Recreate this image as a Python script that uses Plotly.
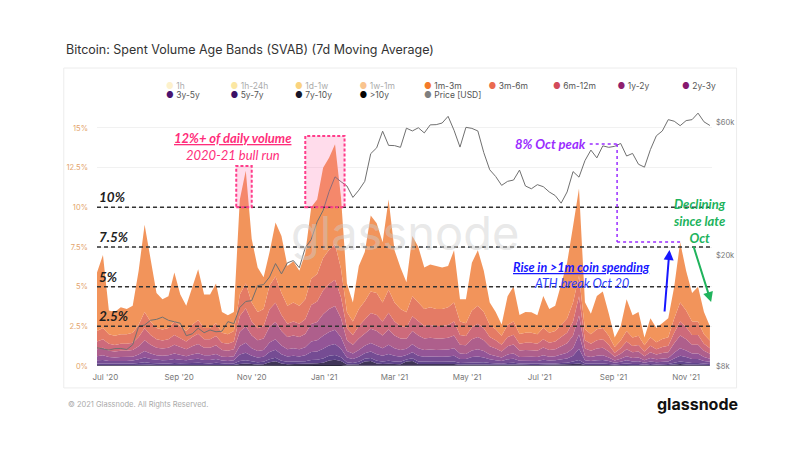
import pandas as pd
import plotly.graph_objects as go

# ---------------- data (5-day samples) ----------------
dates = pd.date_range("2020-06-24", periods=104, freq="5D")

band_1m_3m = [3.7, 4.6, 1.5, 1.5, 1.7, 1.6, 1.7, 3.4, 5.5, 4.0,
              2.2, 1.9, 2.0, 3.1, 2.0, 1.6, 2.4, 3.2, 2.1, 2.1,
              2.5, 1.3, 1.2, 1.2, 6.0, 7.1, 4.0, 2.8, 2.0, 2.1,
              3.4, 3.6, 2.5, 2.6, 2.2, 2.9, 4.5, 4.7, 5.7, 5.8,
              6.3, 4.5, 1.8, 1.2, 2.7, 3.1, 4.8, 4.4, 3.8, 5.7,
              3.3, 2.6, 1.9, 3.8, 3.5, 2.6, 2.7, 2.7, 2.6, 2.6,
              3.3, 1.4, 1.5, 3.0, 3.5, 2.6, 1.4, 1.1, 0.7, 1.8,
              2.2, 1.2, 1.3, 1.3, 1.2, 2.0, 1.5, 1.6, 2.6, 3.5,
              4.8, 5.5, 1.7, 1.3, 2.1, 2.3, 1.4, 0.6, 0.9, 2.0,
              1.4, 1.5, 0.5, 1.2, 0.9, 1.0, 1.2, 2.0, 3.8, 2.5,
              1.8, 2.2, 1.4, 0.9]
band_3m_6m = [0.66, 0.72, 0.60, 0.57, 0.60, 0.60, 0.63, 0.78, 1.02, 0.84,
              0.72, 0.69, 0.72, 0.84, 0.75, 0.66, 0.78, 0.87, 0.72, 0.72,
              0.81, 0.63, 0.60, 0.66, 1.35, 1.56, 1.20, 1.02, 1.08, 1.50,
              1.65, 1.38, 1.14, 1.20, 1.14, 1.26, 1.65, 1.74, 2.04, 2.16,
              2.25, 1.80, 1.02, 0.84, 1.08, 1.17, 1.35, 1.38, 1.20, 1.44,
              1.20, 1.08, 0.96, 1.26, 1.20, 1.08, 1.11, 1.08, 1.08, 1.11,
              1.20, 0.84, 0.81, 1.05, 1.14, 1.02, 0.78, 0.69, 0.57, 0.78,
              0.84, 0.60, 0.63, 0.63, 0.60, 0.72, 0.63, 0.66, 0.78, 0.90,
              1.20, 1.30, 0.69, 0.60, 0.69, 0.72, 0.57, 0.36, 0.48, 0.66,
              0.54, 0.57, 0.39, 0.54, 0.45, 0.51, 0.54, 0.90, 1.20, 1.05,
              0.84, 0.84, 0.60, 0.48]
band_6m_12m = [0.48, 0.53, 0.44, 0.42, 0.44, 0.44, 0.46, 0.57, 0.75, 0.62,
               0.53, 0.51, 0.53, 0.62, 0.55, 0.48, 0.57, 0.64, 0.53, 0.53,
               0.59, 0.46, 0.44, 0.48, 0.99, 1.14, 0.88, 0.75, 0.79, 1.10,
               1.21, 1.01, 0.84, 0.88, 0.84, 0.92, 1.21, 1.28, 1.50, 1.58,
               1.65, 1.32, 0.75, 0.62, 0.79, 0.86, 0.99, 1.01, 0.88, 1.06,
               0.88, 0.79, 0.70, 0.92, 0.88, 0.79, 0.81, 0.79, 0.79, 0.81,
               0.88, 0.62, 0.59, 0.77, 0.84, 0.75, 0.57, 0.51, 0.42, 0.57,
               0.62, 0.44, 0.46, 0.46, 0.44, 0.53, 0.46, 0.48, 0.57, 0.66,
               0.88, 1.21, 0.51, 0.44, 0.51, 0.53, 0.42, 0.26, 0.35, 0.48,
               0.40, 0.42, 0.29, 0.40, 0.33, 0.37, 0.40, 0.66, 0.88, 0.77,
               0.62, 0.62, 0.44, 0.35]
band_1y_2y = [0.44, 0.48, 0.40, 0.38, 0.40, 0.40, 0.42, 0.52, 0.68, 0.56,
              0.48, 0.46, 0.48, 0.56, 0.50, 0.44, 0.52, 0.58, 0.48, 0.48,
              0.54, 0.42, 0.40, 0.44, 0.90, 1.04, 0.80, 0.68, 0.72, 1.00,
              1.10, 0.92, 0.76, 0.80, 0.76, 0.84, 1.10, 1.16, 1.36, 1.44,
              1.50, 1.20, 0.68, 0.56, 0.72, 0.78, 0.90, 0.92, 0.80, 0.96,
              0.80, 0.72, 0.64, 0.84, 0.80, 0.72, 0.74, 0.72, 0.72, 0.74,
              0.80, 0.56, 0.54, 0.70, 0.76, 0.68, 0.52, 0.46, 0.38, 0.52,
              0.56, 0.40, 0.42, 0.42, 0.40, 0.48, 0.42, 0.44, 0.52, 0.60,
              0.80, 1.20, 0.46, 0.40, 0.46, 0.48, 0.38, 0.24, 0.32, 0.44,
              0.36, 0.38, 0.26, 0.36, 0.30, 0.34, 0.36, 0.60, 0.80, 0.70,
              0.56, 0.56, 0.40, 0.32]
band_2y_3y = [0.26, 0.29, 0.24, 0.23, 0.24, 0.24, 0.25, 0.31, 0.41, 0.34,
              0.29, 0.28, 0.29, 0.34, 0.30, 0.26, 0.31, 0.35, 0.29, 0.29,
              0.32, 0.25, 0.24, 0.26, 0.54, 0.62, 0.48, 0.41, 0.43, 0.60,
              0.66, 0.55, 0.46, 0.48, 0.46, 0.50, 0.66, 0.70, 0.82, 0.86,
              0.90, 0.72, 0.41, 0.34, 0.43, 0.47, 0.54, 0.55, 0.48, 0.58,
              0.48, 0.43, 0.38, 0.50, 0.48, 0.43, 0.44, 0.43, 0.43, 0.44,
              0.48, 0.34, 0.32, 0.42, 0.46, 0.41, 0.31, 0.28, 0.23, 0.31,
              0.34, 0.24, 0.25, 0.25, 0.24, 0.29, 0.25, 0.26, 0.31, 0.36,
              0.48, 0.90, 0.28, 0.24, 0.28, 0.29, 0.23, 0.14, 0.19, 0.26,
              0.22, 0.23, 0.16, 0.22, 0.18, 0.20, 0.22, 0.36, 0.48, 0.42,
              0.34, 0.34, 0.24, 0.19]
band_3y_5y = [0.20, 0.22, 0.18, 0.17, 0.18, 0.18, 0.19, 0.23, 0.31, 0.25,
              0.22, 0.21, 0.22, 0.25, 0.23, 0.20, 0.23, 0.26, 0.22, 0.22,
              0.24, 0.19, 0.18, 0.20, 0.41, 0.47, 0.36, 0.31, 0.32, 0.45,
              0.50, 0.41, 0.34, 0.36, 0.34, 0.38, 0.50, 0.52, 0.61, 0.65,
              0.68, 0.54, 0.31, 0.25, 0.32, 0.35, 0.41, 0.41, 0.36, 0.43,
              0.36, 0.32, 0.29, 0.38, 0.36, 0.32, 0.33, 0.32, 0.32, 0.33,
              0.36, 0.25, 0.24, 0.32, 0.34, 0.31, 0.23, 0.21, 0.17, 0.23,
              0.25, 0.18, 0.19, 0.19, 0.18, 0.22, 0.19, 0.20, 0.23, 0.27,
              0.36, 0.70, 0.21, 0.18, 0.21, 0.22, 0.17, 0.11, 0.14, 0.20,
              0.16, 0.17, 0.12, 0.16, 0.14, 0.15, 0.16, 0.27, 0.36, 0.32,
              0.25, 0.25, 0.18, 0.14]
band_5y_7y = [0.09, 0.10, 0.08, 0.08, 0.08, 0.08, 0.08, 0.11, 0.14, 0.11,
              0.10, 0.09, 0.10, 0.11, 0.10, 0.09, 0.11, 0.12, 0.10, 0.10,
              0.11, 0.08, 0.08, 0.09, 0.18, 0.21, 0.16, 0.14, 0.15, 0.20,
              0.22, 0.18, 0.15, 0.16, 0.15, 0.17, 0.22, 0.23, 0.27, 0.29,
              0.30, 0.24, 0.14, 0.11, 0.15, 0.16, 0.18, 0.18, 0.16, 0.19,
              0.16, 0.15, 0.13, 0.17, 0.16, 0.15, 0.15, 0.15, 0.15, 0.15,
              0.16, 0.11, 0.11, 0.14, 0.15, 0.14, 0.11, 0.09, 0.08, 0.11,
              0.11, 0.08, 0.08, 0.08, 0.08, 0.10, 0.08, 0.09, 0.11, 0.12,
              0.16, 0.22, 0.09, 0.08, 0.09, 0.10, 0.08, 0.05, 0.06, 0.09,
              0.07, 0.08, 0.05, 0.07, 0.06, 0.07, 0.07, 0.12, 0.16, 0.14,
              0.11, 0.11, 0.08, 0.06]
band_7y_10y = [0.05, 0.04, 0.04, 0.03, 0.04, 0.04, 0.05, 0.05, 0.06, 0.05,
               0.04, 0.04, 0.04, 0.05, 0.05, 0.05, 0.05, 0.05, 0.04, 0.04,
               0.06, 0.05, 0.04, 0.05, 0.09, 0.11, 0.08, 0.06, 0.07, 0.18,
               0.25, 0.10, 0.07, 0.08, 0.07, 0.09, 0.11, 0.12, 0.14, 0.28,
               0.32, 0.25, 0.06, 0.05, 0.07, 0.25, 0.28, 0.10, 0.08, 0.09,
               0.08, 0.07, 0.25, 0.28, 0.08, 0.07, 0.07, 0.07, 0.07, 0.07,
               0.08, 0.05, 0.06, 0.07, 0.07, 0.06, 0.05, 0.05, 0.04, 0.05,
               0.06, 0.05, 0.05, 0.04, 0.04, 0.05, 0.05, 0.05, 0.05, 0.06,
               0.08, 0.11, 0.05, 0.04, 0.05, 0.04, 0.04, 0.02, 0.04, 0.05,
               0.03, 0.03, 0.02, 0.04, 0.03, 0.04, 0.04, 0.06, 0.08, 0.07,
               0.05, 0.05, 0.04, 0.04]
band_10y_plus = [0.02, 0.02, 0.02, 0.02, 0.02, 0.02, 0.02, 0.03, 0.03, 0.03,
                 0.02, 0.02, 0.02, 0.03, 0.02, 0.02, 0.03, 0.03, 0.02, 0.02,
                 0.03, 0.02, 0.02, 0.02, 0.04, 0.05, 0.04, 0.03, 0.04, 0.05,
                 0.05, 0.05, 0.04, 0.04, 0.04, 0.04, 0.05, 0.05, 0.06, 0.07,
                 0.08, 0.06, 0.03, 0.03, 0.04, 0.04, 0.04, 0.05, 0.04, 0.05,
                 0.04, 0.04, 0.03, 0.04, 0.04, 0.04, 0.05, 0.04, 0.04, 0.05,
                 0.04, 0.03, 0.03, 0.03, 0.04, 0.03, 0.03, 0.02, 0.02, 0.03,
                 0.03, 0.02, 0.02, 0.02, 0.02, 0.02, 0.02, 0.02, 0.03, 0.03,
                 0.04, 0.05, 0.02, 0.02, 0.02, 0.02, 0.02, 0.02, 0.02, 0.02,
                 0.02, 0.02, 0.01, 0.02, 0.01, 0.02, 0.02, 0.03, 0.04, 0.03,
                 0.03, 0.03, 0.02, 0.02]
price_usd = [9300, 9190, 9130, 9240, 9250, 9170, 9540, 11100, 11230, 11680,
             11770, 11990, 11680, 11540, 11400, 10280, 10440, 10940, 10540, 10780,
             10620, 10670, 11550, 11360, 12990, 13650, 13740, 15560, 15700, 16720,
             18680, 17150, 18800, 19150, 18050, 21300, 22800, 26400, 29000, 33900,
             38300, 36800, 35500, 32300, 34300, 36900, 46400, 48700, 55900, 49700,
             49600, 48900, 57300, 56000, 57500, 55100, 58900, 59000, 59800, 63200,
             56300, 49000, 57700, 57200, 56000, 46800, 40600, 38400, 35700, 36900,
             37300, 40500, 35500, 34700, 35900, 35300, 33800, 32800, 30800, 33800,
             40000, 38200, 43800, 47800, 44800, 49500, 48900, 49300, 50500, 45500,
             46500, 42500, 41500, 48000, 53800, 56000, 61500, 60700, 58500, 61000,
             61500, 64900, 60400, 58600]

legend_names = ["1h", "1h-24h", "1d-1w", "1w-1m", "1m-3m", "3m-6m", "6m-12m",
                "1y-2y", "2y-3y", "3y-5y", "5y-7y", "7y-10y", ">10y", "Price [USD]"]
legend_dot_colors = ["#fbe39a", "#f8d04a", "#f6a800", "#f58a1f", "#f47a2a", "#ea6a4f",
                     "#d24a5a", "#8f1f6e", "#86196f", "#4a1470", "#3b1166", "#161628",
                     "#050505", "#7f7f7f"]
hidden_bands = ["1h", "1h-24h", "1d-1w", "1w-1m"]
row_end_widths = {"2y-3y": 34, "Price [USD]": 64}

pct_ticks = [0, 2.5, 5, 7.5, 10, 12.5, 15]
pct_tick_text = ["0%", "2.5%", "5%", "7.5%", "10%", "12.5%", "15%"]
price_ticks = [8000, 20000, 60000]
price_tick_text = ["$8k", "$20k", "$60k"]
month_ticks = ["2020-07-01", "2020-09-01", "2020-11-01", "2021-01-01", "2021-03-01",
               "2021-05-01", "2021-07-01", "2021-09-01", "2021-11-01"]
level_lines = [10, 7.5, 5, 2.5]
level_labels = ["10%", "7.5%", "5%", "2.5%"]

# ---------------- figure ----------------
fig = go.Figure()

stack = [
    (">10y", band_10y_plus, "#2c2a3c"),
    ("7y-10y", band_7y_10y, "#403558"),
    ("5y-7y", band_5y_7y, "#5f438a"),
    ("3y-5y", band_3y_5y, "#754c93"),
    ("2y-3y", band_2y_3y, "#935597"),
    ("1y-2y", band_1y_2y, "#ae5f8c"),
    ("6m-12m", band_6m_12m, "#cd6a7b"),
    ("3m-6m", band_3m_6m, "#e47b65"),
    ("1m-3m", band_1m_3m, "#f2945b"),
]
for name, vals, col in stack:
    fig.add_trace(go.Scatter(
        x=dates, y=vals, name=name, stackgroup="svab", mode="lines",
        line=dict(width=0, color=col), fillcolor=col,
        showlegend=False, hoverinfo="skip"))

fig.add_trace(go.Scatter(
    x=dates, y=price_usd, name="Price [USD]", yaxis="y2", mode="lines",
    line=dict(color="#707070", width=1), showlegend=False, hoverinfo="skip"))

for i, (name, col) in enumerate(zip(legend_names, legend_dot_colors)):
    extra = {}
    if name in row_end_widths:
        extra["legendwidth"] = row_end_widths[name]
    fig.add_trace(go.Scatter(
        x=[None], y=[None], mode="markers",
        marker=dict(color="rgba(0,0,0,0)", size=1),
        name=f'<span style="color:{col}">\u25CF</span> {name}',
        legend="legend" if i < 9 else "legend2",
        visible="legendonly" if name in hidden_bands else True,
        hoverinfo="skip", **extra))

ann_font = dict(family="Lato", size=13, weight="bold", style="italic")

shapes = []
annotations = []

# dashed level lines with labels
for lv, lab in zip(level_lines, level_labels):
    shapes.append(dict(type="line", xref="paper", yref="y", x0=0, x1=1, y0=lv, y1=lv,
                       line=dict(color="#333333", width=1.5, dash="4px,3px"), layer="above"))
    annotations.append(dict(xref="paper", yref="y", x=0.0, y=lv, xanchor="left",
                            yanchor="bottom", text=lab, showarrow=False,
                            font=dict(family="Lato", size=13.5, weight="bold",
                                      style="italic", color="#1e1e1e")))

# pink boxes
for x0, x1, y1 in [("2020-10-19", "2020-11-01", 12.6), ("2020-12-16", "2021-01-18", 14.5)]:
    shapes.append(dict(type="rect", xref="x", yref="y", x0=x0, x1=x1, y0=10, y1=y1,
                       fillcolor="rgba(255,95,165,0.22)",
                       line=dict(color="#ff3d8b", width=2, dash="3px,2px"), layer="above"))

# purple dashed path
purple = "#9a2cff"
for (xa, ya, xb, yb) in [("2021-08-12", 13.99, "2021-09-04", 13.99),
                         ("2021-09-04", 13.99, "2021-09-04", 7.81),
                         ("2021-09-04", 7.81, "2021-10-27", 7.81)]:
    shapes.append(dict(type="line", xref="x", yref="y", x0=xa, x1=xb, y0=ya, y1=yb,
                       line=dict(color=purple, width=1.5, dash="3px,3px"), layer="above"))

# panel frame
shapes.append(dict(type="rect", xref="paper", yref="paper", x0=-0.054, x1=1.04,
                   y0=-0.085, y1=1.155, line=dict(color="#ececec", width=1),
                   fillcolor="rgba(0,0,0,0)", layer="below"))

pink = "#ff2d7a"
annotations += [
    dict(x="2021-03-10", y=8.44, xref="x", yref="y", text="glassnode", showarrow=False,
         font=dict(family="Inter", size=47, color="rgba(205,205,205,0.45)")),
    dict(x="2020-10-16", y=14.37, xref="x", yref="y", text="12%+ of daily volume",
         showarrow=False, font=dict(**ann_font, color=pink, lineposition="under")),
    dict(x="2020-10-16", y=13.3, xref="x", yref="y", text="2020-21 bull run",
         showarrow=False, font=dict(family="Lato", size=13, style="italic", color=pink)),
    dict(x="2021-07-10", y=13.99, xref="x", yref="y", text="8% Oct peak",
         showarrow=False, font=dict(**ann_font, color=purple)),
    dict(x="2021-08-05", y=6.22, xref="x", yref="y", text="Rise in >1m coin spending",
         showarrow=False, font=dict(family="Lato", size=12.5, weight="bold", style="italic",
                                    color="#1717ff", lineposition="under")),
    dict(x="2021-08-05", y=5.17, xref="x", yref="y", text="ATH break Oct 20",
         showarrow=False, font=dict(family="Lato", size=12.5, style="italic", color="#2a3cff")),
    dict(x="2021-11-12", y=9.15, xref="x", yref="y", text="Declining<br>since late<br>Oct",
         showarrow=False, font=dict(**ann_font, color="#20b35c")),
    dict(x="2021-10-18", y=7.31, xref="x", yref="y", ax=-5, ay=63, text="",
         showarrow=True, arrowhead=2, arrowsize=1, arrowwidth=2, arrowcolor="#1717ff"),
    dict(x="2021-11-22", y=4.03, xref="x", yref="y", ax=-18, ay=-57, text="",
         showarrow=True, arrowhead=2, arrowsize=1, arrowwidth=2, arrowcolor="#20b35c"),
    dict(xref="paper", yref="paper", x=-0.05, y=-0.151, xanchor="left", yanchor="middle",
         text="\u00A9 2021 Glassnode. All Rights Reserved.", showarrow=False,
         font=dict(family="Inter", size=7.5, color="#aaaaaa")),
    dict(xref="paper", yref="paper", x=1.045, y=-0.147, xanchor="right", yanchor="middle",
         text="glassnode", showarrow=False,
         font=dict(family="Inter", size=16, weight="bold", color="#111111")),
]

legend_common = dict(orientation="h", xanchor="left", yanchor="middle",
                     entrywidth=19.5, entrywidthmode="pixels", itemwidth=30,
                     bgcolor="rgba(0,0,0,0)", traceorder="normal",
                     font=dict(family="Inter", size=8.5, color="#555555"))

fig.update_layout(
    width=810, height=450,
    margin=dict(l=97, r=98, t=108, b=84),
    paper_bgcolor="white", plot_bgcolor="white",
    title=dict(text="Bitcoin: Spent Volume Age Bands (SVAB) (7d Moving Average)",
               x=66 / 810, xanchor="left", y=1 - 50 / 450, yanchor="middle",
               font=dict(family="Inter", size=12.5, color="#333333")),
    xaxis=dict(type="date", range=["2020-06-24", "2021-11-22 18:00"],
               tickvals=month_ticks, tickformat="%b '%y", showgrid=False,
               zeroline=False, showline=False, ticks="", ticklabelstandoff=5,
               tickfont=dict(family="Inter", size=8, color="#777777")),
    yaxis=dict(range=[0, 16.26], tickvals=pct_ticks, ticktext=pct_tick_text,
               showgrid=True, gridcolor="#f1f1f1", zeroline=False, ticks="",
               ticklabelstandoff=8, tickfont=dict(family="Inter", size=7.5, color="#e3a46c")),
    yaxis2=dict(overlaying="y", side="right", type="log", range=[3.9031, 4.8307],
                tickvals=price_ticks, ticktext=price_tick_text, showgrid=False,
                zeroline=False, ticks="", ticklabelstandoff=3,
                tickfont=dict(family="Inter", size=7.5, color="#777777")),
    legend=dict(**legend_common, x=0.0472, y=1.0853),
    legend2=dict(**legend_common, x=0.0472, y=1.052),
    shapes=shapes, annotations=annotations,
    showlegend=True,
)

fig.write_html("out.html")
